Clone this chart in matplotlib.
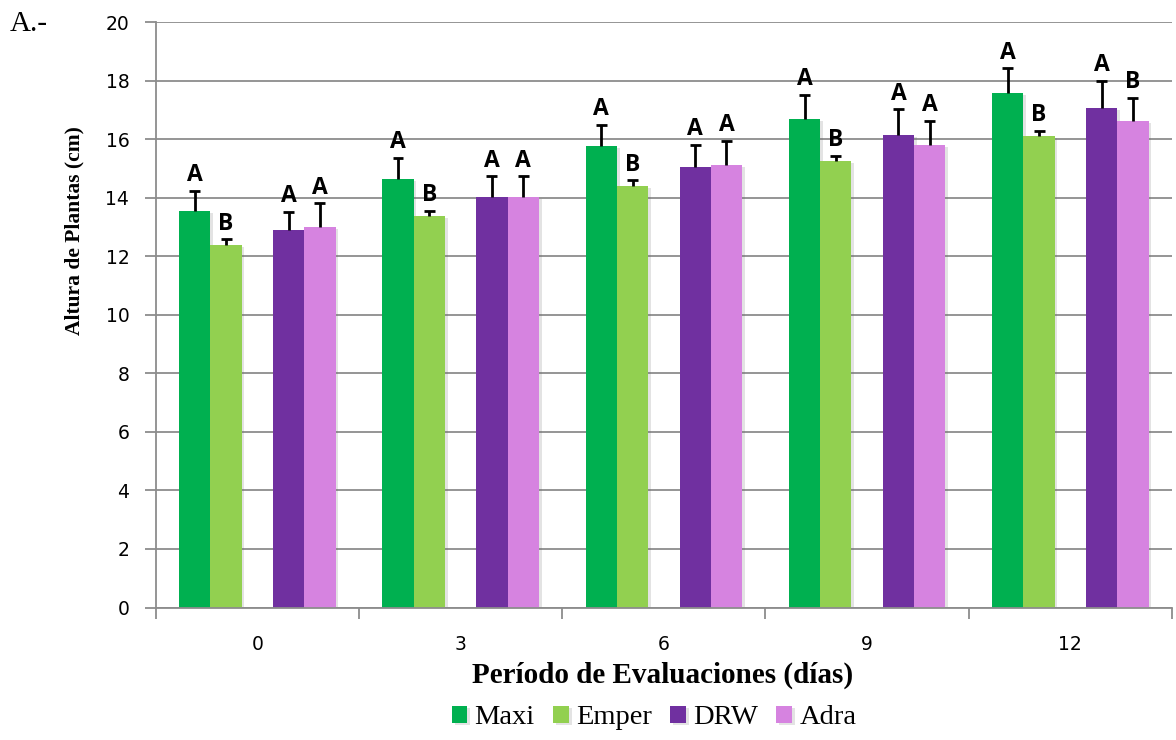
import matplotlib
matplotlib.use('Agg')
import matplotlib.pyplot as plt
import matplotlib.patheffects as pe
import numpy as np

# altura media de plantas (cm) y error estandar por periodo
dias = ['0', '3', '6', '9', '12']
maxi = [13.55, 14.65, 15.77, 16.69, 17.59]
maxi_err = [0.68, 0.71, 0.72, 0.83, 0.83]
emper = [12.38, 13.39, 14.40, 15.25, 16.11]
emper_err = [0.20, 0.17, 0.20, 0.18, 0.18]
drw = [12.89, 14.02, 15.04, 16.13, 17.07]
drw_err = [0.63, 0.72, 0.76, 0.89, 0.92]
adra = [13.00, 14.01, 15.13, 15.81, 16.63]
adra_err = [0.81, 0.73, 0.81, 0.81, 0.79]

# letras de significancia
let_maxi = ['A', 'A', 'A', 'A', 'A']
let_emper = ['B', 'B', 'B', 'B', 'B']
let_drw = ['A', 'A', 'A', 'A', 'A']
let_adra = ['A', 'A', 'A', 'A', 'B']

nombres = ['Maxi', 'Emper', 'DRW', 'Adra']
colores = ['#00B050', '#92D050', '#7030A0', '#D683E0']

series = [(maxi, maxi_err, let_maxi), (emper, emper_err, let_emper),
          (drw, drw_err, let_drw), (adra, adra_err, let_adra)]

w = 0.154
cap = 0.027
offs = [-2*w, -w, w, 2*w]
x = np.arange(len(dias))

fig = plt.figure(figsize=(11.76, 7.4), dpi=100)
ax = fig.add_axes([0.1324, 0.179, 0.8642, 0.7912])

sombra = [pe.SimplePatchShadow(offset=(2, -1.5), shadow_rgbFace='#666666', alpha=0.18), pe.Normal()]

for (vals, err, let), off, col, nom in zip(series, offs, colores, nombres):
    xs = x + off
    top = np.array(vals) + np.array(err)
    bars = ax.bar(xs, vals, w, color=col, label=nom, zorder=2)
    for b in bars:
        b.set_path_effects(sombra)
    # solo barra de error superior
    ax.vlines(xs, vals, top, color='black', linewidth=2, zorder=3)
    ax.hlines(top, xs - cap, xs + cap, color='black', linewidth=2, zorder=3)
    for xi, t, l in zip(xs, top, let):
        ax.text(xi, t + 0.12, l, ha='center', va='bottom', fontsize=16.5,
                fontweight='bold', family='Open Sans', zorder=4)

ax.set_xlim(-0.5, len(dias) - 0.5)
ax.set_ylim(0, 20)
ax.set_yticks(np.arange(0, 21, 2))
ax.yaxis.grid(True, color='#8C8C8C', linewidth=1.3)
ax.set_axisbelow(True)

ax.set_xticks(x)
ax.set_xticklabels(dias)
ax.set_xticks(np.arange(-0.5, len(dias), 1), minor=True)
ax.tick_params(axis='x', which='major', length=0, pad=20, labelsize=13.5)
ax.tick_params(axis='x', which='minor', length=8, width=1.3, color='#8C8C8C')
ax.tick_params(axis='y', length=8, width=1.3, color='#8C8C8C', pad=11, labelsize=13.5)

for s in ['top', 'right']:
    ax.spines[s].set_visible(False)
for s in ['left', 'bottom']:
    ax.spines[s].set_color('#8C8C8C')
    ax.spines[s].set_linewidth(1.3)

fig.text(74/1176, 1 - 231/740, 'Altura de Plantas (cm)', rotation=90, ha='center', va='center',
         family='Liberation Serif', fontweight='bold', fontsize=15.5)
fig.text(663/1176, 1 - 675/740, 'Período de Evaluaciones (días)', ha='center', va='center',
         family='Liberation Serif', fontweight='bold', fontsize=21)
fig.text(10/1176, 1 - 24/740, 'A.-', ha='left', va='center', family='Liberation Serif', fontsize=21)

leg = fig.legend(loc='center', bbox_to_anchor=(654/1176, 1 - 718/740), ncol=4, frameon=False,
                 prop={'family': 'Liberation Serif', 'size': 20.5}, handlelength=0.55,
                 handleheight=0.55, handletextpad=0.25, columnspacing=0.65)

fig.savefig('out.png', dpi=100)
